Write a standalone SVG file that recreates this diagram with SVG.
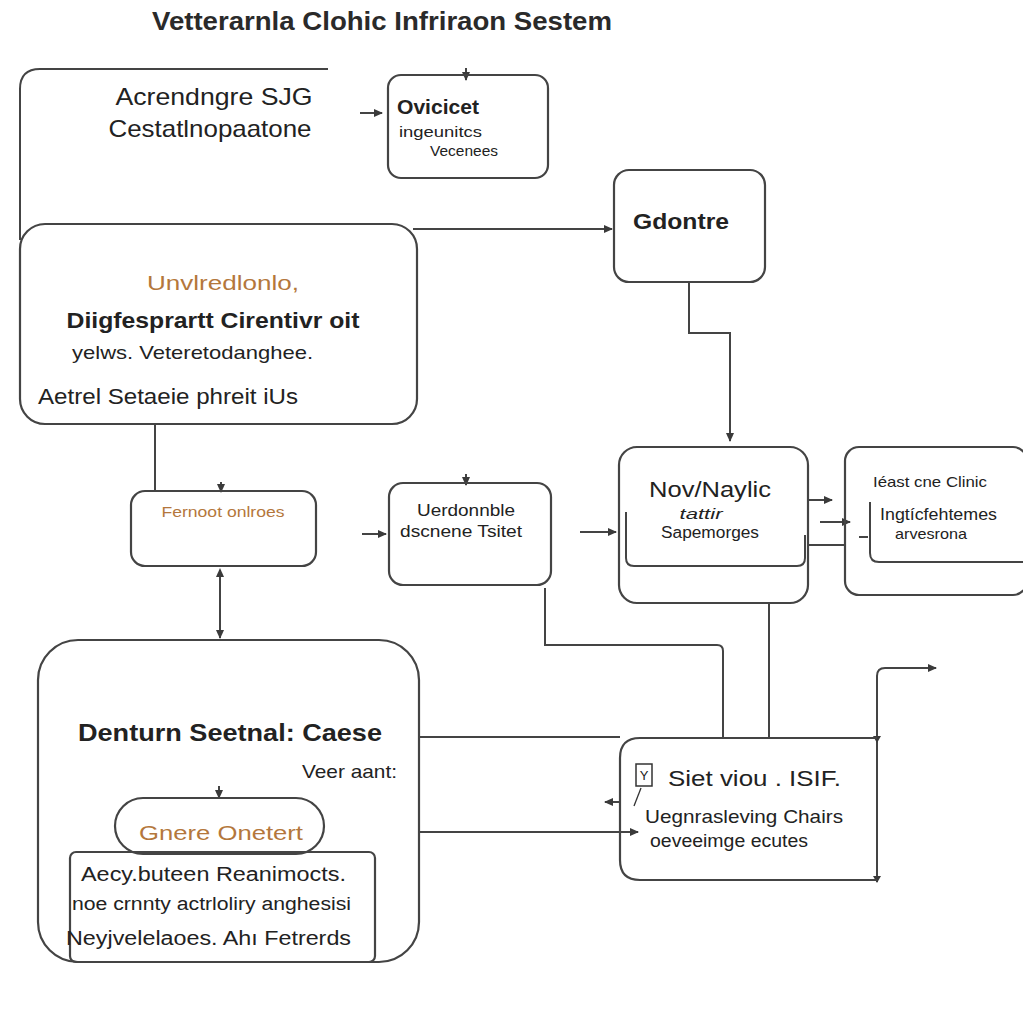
<svg xmlns="http://www.w3.org/2000/svg" width="1023" height="1024" viewBox="0 0 1023 1024">
<defs>
<marker id="ah" markerWidth="10" markerHeight="10" refX="8" refY="5" orient="auto" markerUnits="userSpaceOnUse">
<path d="M0,1 L9,5 L0,9 Z" fill="#3a3a3a"/>
</marker>
<marker id="as" markerWidth="10" markerHeight="10" refX="2" refY="5" orient="auto" markerUnits="userSpaceOnUse">
<path d="M9,1 L0,5 L9,9 Z" fill="#3a3a3a"/>
</marker>
<style>
.b{fill:none;stroke:#444;stroke-width:2.2}
.c{fill:none;stroke:#444;stroke-width:2}
.t{font-family:"Liberation Sans",Arial,sans-serif;fill:#222}
.bo{font-weight:bold}
.o{fill:#b4773c}
</style>
</defs>
<rect width="1023" height="1024" fill="#fff"/>
<text class="t" x="382" y="30" font-size="26" text-anchor="middle" textLength="460" lengthAdjust="spacingAndGlyphs" style="font-weight:bold;fill:#2a2a2a">Vetterarnla Clohic Infriraon Sestem</text>

<g id="connectors">
<path class="c" d="M328,69 H40 Q20,69 20,89 V240"/>
<path class="c" d="M360,113 H382" marker-end="url(#ah)"/>
<path class="c" d="M466,68 V80" marker-end="url(#ah)"/>
<path class="c" d="M413,229 H612" marker-end="url(#ah)"/>
<path class="c" d="M689,283 V333 H730 V441" marker-end="url(#ah)"/>
<path class="c" d="M155,425 V490"/>
<path class="c" d="M221,482 V492" marker-end="url(#ah)"/>
<path class="c" d="M220,570 V638" marker-start="url(#as)" marker-end="url(#ah)"/>
<path class="c" d="M466,474 V485" marker-end="url(#ah)"/>
<path class="c" d="M362,534 H386" marker-end="url(#ah)"/>
<path class="c" d="M580,532 H616" marker-end="url(#ah)"/>
<path class="c" d="M808,500 H832" marker-end="url(#ah)"/>
<path class="c" d="M820,522 H850" marker-end="url(#ah)"/>
<path class="c" d="M808,545 H845"/>
<path class="c" d="M769,603 V738"/>
<path class="c" d="M545,588 V645 H717 Q723,645 723,651 V738"/>
<path class="c" d="M419,737 H620"/>
<path class="c" d="M419,832 H638" marker-end="url(#ah)"/>
<path class="c" d="M877,882 V676 Q877,668 885,668 H936" marker-end="url(#ah)"/>
<path class="c" d="M619,802 H605" marker-end="url(#ah)"/>
<path class="c" d="M219,786 V798" marker-end="url(#ah)"/>
<path d="M873,736 L881,736 L877,743 Z M873,876 L881,876 L877,883 Z" fill="#3a3a3a"/>
</g>

<g id="node-acrendngre">
<text class="t" x="214" y="105" font-size="24" text-anchor="middle" textLength="197" lengthAdjust="spacingAndGlyphs">Acrendngre SJG</text>
<text class="t" x="210" y="137" font-size="24" text-anchor="middle" textLength="203" lengthAdjust="spacingAndGlyphs">Cestatlnopaatone</text>
</g>

<g id="node-ovicices">
<rect class="b" x="388" y="75" width="160" height="103" rx="13"/>
<text class="t bo" x="397" y="114" font-size="20" textLength="82" lengthAdjust="spacingAndGlyphs">Ovicicet</text>
<text class="t" x="399" y="137" font-size="15" textLength="83" lengthAdjust="spacingAndGlyphs">ingeunitcs</text>
<text class="t" x="430" y="156" font-size="15" textLength="68" lengthAdjust="spacingAndGlyphs">Vecenees</text>
</g>

<g id="node-gdontre">
<rect class="b" x="614" y="170" width="151" height="112" rx="15"/>
<text class="t bo" x="633" y="229" font-size="22" textLength="96" lengthAdjust="spacingAndGlyphs">Gdontre</text>
</g>

<g id="node-diagnostic">
<rect class="b" x="20" y="224" width="397" height="200" rx="25"/>
<text class="t o" x="223" y="290" font-size="20" text-anchor="middle" textLength="152" lengthAdjust="spacingAndGlyphs">Unvlredlonlo,</text>
<text class="t bo" x="213" y="328" font-size="22" text-anchor="middle" textLength="293" lengthAdjust="spacingAndGlyphs">Diigfesprartt Cirentivr oit</text>
<text class="t" x="72" y="359" font-size="19" textLength="241" lengthAdjust="spacingAndGlyphs">yelws. Veteretodanghee.</text>
<text class="t" x="38" y="404" font-size="22" textLength="260" lengthAdjust="spacingAndGlyphs">Aetrel  Setaeie phreit iUs</text>
</g>

<g id="node-fernoot">
<rect class="b" x="131" y="491" width="185" height="75" rx="14"/>
<text class="t o" x="223" y="517" font-size="15" text-anchor="middle" textLength="123" lengthAdjust="spacingAndGlyphs">Fernoot onlroes</text>
</g>

<g id="node-uerdonnble">
<rect class="b" x="389" y="483" width="162" height="102" rx="14"/>
<text class="t" x="466" y="516" font-size="16" text-anchor="middle" textLength="98" lengthAdjust="spacingAndGlyphs">Uerdonnble</text>
<text class="t" x="461" y="537" font-size="17" text-anchor="middle" textLength="122" lengthAdjust="spacingAndGlyphs">dscnene Tsitet</text>
</g>

<g id="node-novnaylic">
<rect class="b" x="619" y="447" width="189" height="156" rx="18"/>
<path class="c" d="M626,512 V558 Q626,566 634,566 H797 Q805,566 805,558 V535"/>
<text class="t" x="710" y="497" font-size="22" text-anchor="middle" textLength="122" lengthAdjust="spacingAndGlyphs">Nov/Naylic</text>
<text class="t" x="701" y="519" font-size="14" text-anchor="middle" font-style="italic" textLength="43" lengthAdjust="spacingAndGlyphs">tattir</text>
<text class="t" x="710" y="538" font-size="16" text-anchor="middle" textLength="98" lengthAdjust="spacingAndGlyphs">Sapemorges</text>
</g>

<g id="node-clinic">
<rect class="b" x="845" y="447" width="182" height="148" rx="14"/>
<path class="c" d="M870,502 V553 Q870,562 879,562 H1023"/>
<path class="c" d="M859,537 H868"/>
<text class="t" x="873" y="487" font-size="15" textLength="114" lengthAdjust="spacingAndGlyphs">Iéast cne Clinic</text>
<text class="t" x="880" y="520" font-size="17" textLength="117" lengthAdjust="spacingAndGlyphs">Ingtícfehtemes</text>
<text class="t" x="895" y="539" font-size="15" textLength="72" lengthAdjust="spacingAndGlyphs">arvesrona</text>
</g>

<g id="node-denturn">
<rect class="b" x="38" y="640" width="381" height="322" rx="40"/>
<text class="t bo" x="78" y="741" font-size="24" textLength="304" lengthAdjust="spacingAndGlyphs">Denturn Seetnal: Caese</text>
<text class="t" x="302" y="778" font-size="19" textLength="95" lengthAdjust="spacingAndGlyphs">Veer aant:</text>
</g>

<g id="node-gnere">
<rect class="b" x="115" y="798" width="209" height="56" rx="28"/>
<text class="t o" x="221" y="840" font-size="21" text-anchor="middle" textLength="164" lengthAdjust="spacingAndGlyphs">Gnere Onetert</text>
</g>

<g id="node-aecy">
<rect class="b" x="70" y="852" width="305" height="110" rx="6"/>
<text class="t" x="81" y="881" font-size="20" textLength="265" lengthAdjust="spacingAndGlyphs">Aecy.buteen  Reanimocts.</text>
<text class="t" x="72" y="910" font-size="18" textLength="279" lengthAdjust="spacingAndGlyphs">noe crnnty actrloliry anghesisi</text>
<text class="t" x="66" y="945" font-size="20" textLength="285" lengthAdjust="spacingAndGlyphs">Neyjvelelaoes.  Ahı Fetrerds</text>
</g>

<g id="node-siet">
<path class="b" d="M620,758 Q620,738 640,738 H877 M877,880 H640 Q620,880 620,860 V758"/>
<rect x="636" y="764" width="16" height="22" fill="none" stroke="#333" stroke-width="1.5"/>
<text class="t" x="644" y="780" font-size="13" text-anchor="middle">Y</text>
<path d="M641,788 L634,806" fill="none" stroke="#333" stroke-width="1.3"/>
<text class="t" x="668" y="786" font-size="22" textLength="173" lengthAdjust="spacingAndGlyphs">Siet viou . ISIF.</text>
<text class="t" x="645" y="823" font-size="19" textLength="198" lengthAdjust="spacingAndGlyphs">Uegnrasleving Chairs</text>
<text class="t" x="650" y="847" font-size="18" textLength="158" lengthAdjust="spacingAndGlyphs">oeveeimge ecutes</text>
</g>
</svg>
